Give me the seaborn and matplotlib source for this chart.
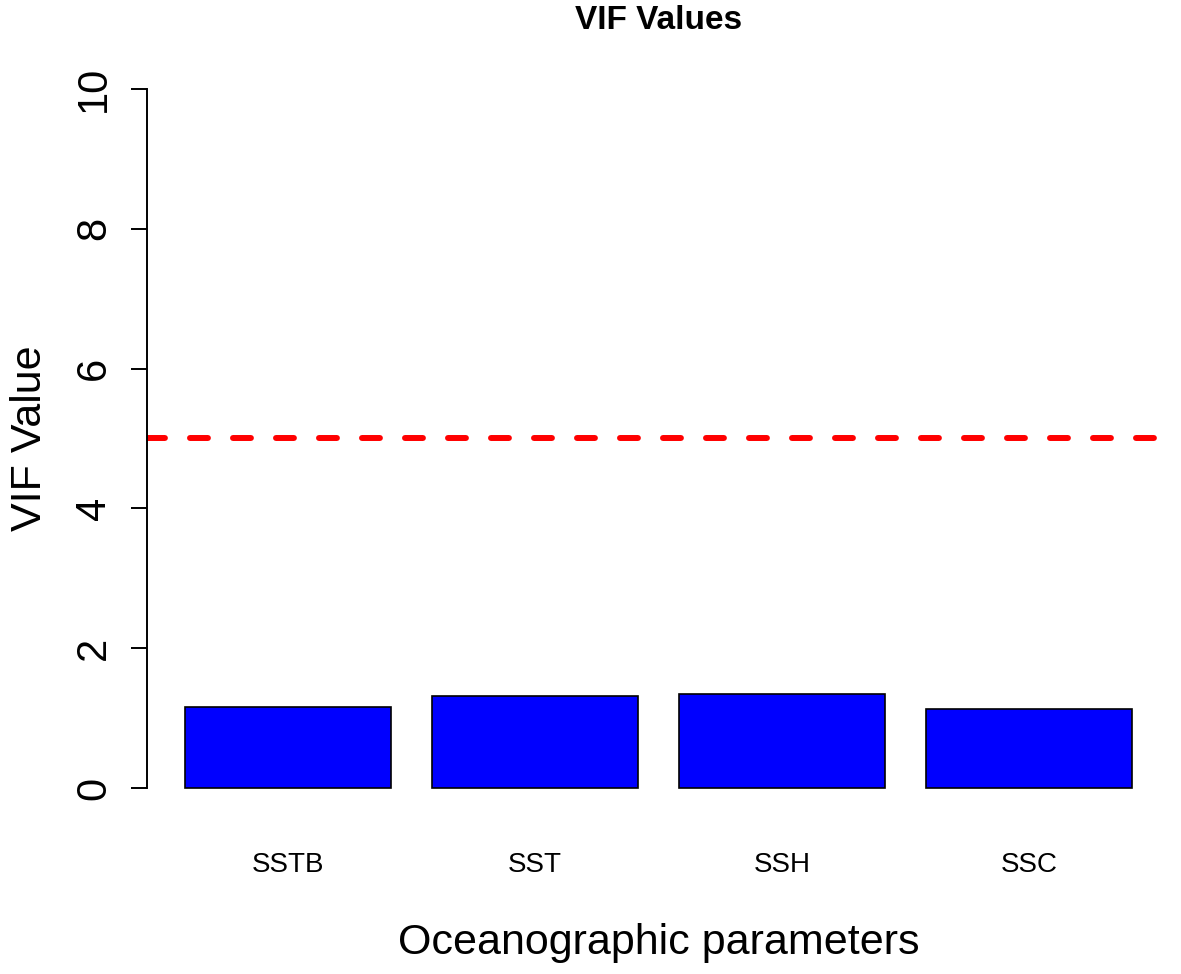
import matplotlib
matplotlib.use("Agg")
import matplotlib.pyplot as plt
import seaborn as sns
import pandas as pd

# VIF values
parameters = ["SSTB", "SST", "SSH", "SSC"]
vif_values = [1.16, 1.31, 1.34, 1.13]
threshold = 5
y_ticks = [0, 2, 4, 6, 8, 10]

df = pd.DataFrame({"parameter": parameters, "vif": vif_values})

sns.set_style("white")
plt.rcParams["font.family"] = ["Liberation Sans", "DejaVu Sans"]
plt.rcParams["text.color"] = "black"
plt.rcParams["axes.labelcolor"] = "black"
plt.rcParams["xtick.color"] = "black"
plt.rcParams["ytick.color"] = "black"

fig = plt.figure(figsize=(11.81, 9.74), dpi=100)
ax = fig.add_axes([147 / 1181, 1 - 816 / 974, 1023 / 1181, 755 / 974])

sns.barplot(data=df, x="parameter", y="vif", color="blue", saturation=1,
            edgecolor="black", linewidth=1.2, width=1 / 1.2, ax=ax)

ax.axhline(y=threshold, color="red", linewidth=4.3, linestyle=(0, (3.0, 4.2)),
           dash_capstyle="round")

ax.set_xlim(-0.571, 3.571)
ax.set_ylim(-0.4, 10.4)
ax.set_yticks(y_ticks)
ax.set_yticklabels([str(t) for t in y_ticks], rotation=90, va="center")

sns.despine(ax=ax, top=True, right=True, bottom=True)
ax.spines["left"].set_bounds(0, 10)
ax.spines["left"].set_linewidth(1.4)
ax.spines["left"].set_color("black")

ax.tick_params(axis="y", direction="out", length=11.5, width=1.4, color="black",
               labelsize=30, pad=12, left=True)
ax.tick_params(axis="x", length=0, labelsize=20, pad=26)

ax.set_xlabel("Oceanographic parameters", fontsize=31)
ax.xaxis.set_label_coords(0.5, -0.168)
ax.xaxis.label.set_va("center")
ax.set_ylabel("VIF Value", fontsize=31)
ax.yaxis.set_label_coords(-0.114, 0.5)
ax.yaxis.label.set_va("center")

ax.set_title("VIF Values", fontsize=24, fontweight="bold", y=1.053, pad=0, va="center")

plt.savefig("out.png", dpi=100)
